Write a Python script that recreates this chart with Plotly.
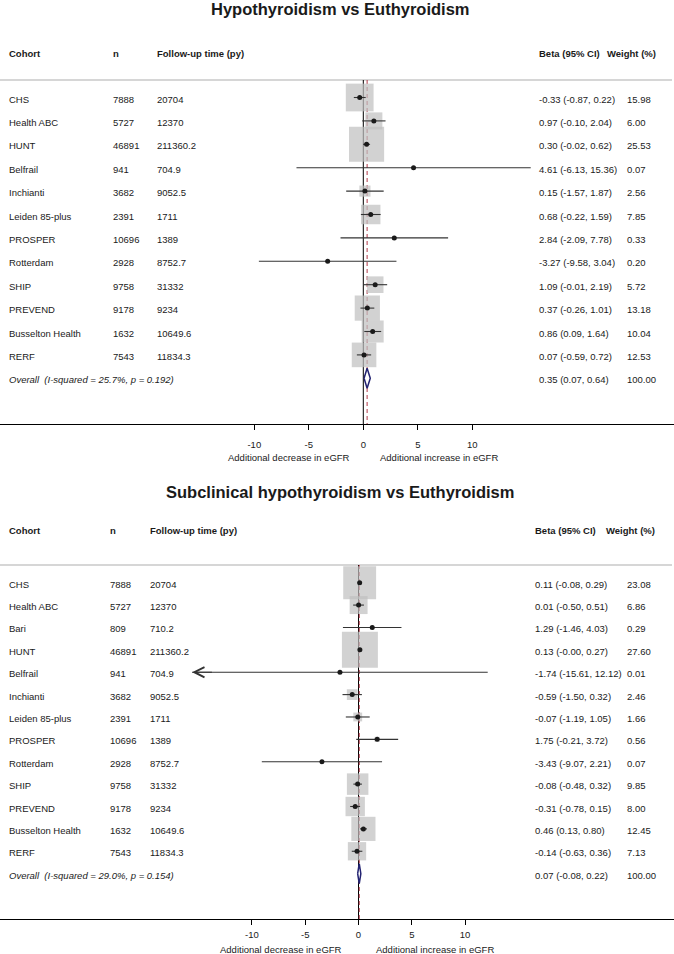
import math
import plotly.graph_objects as go

W, H = 674, 954

# ---------------- data: panel 1 ----------------
top_title = "Hypothyroidism vs Euthyroidism"
top_cohorts = ["CHS", "Health ABC", "HUNT", "Belfrail", "Inchianti", "Leiden 85-plus",
               "PROSPER", "Rotterdam", "SHIP", "PREVEND", "Busselton Health", "RERF"]
top_n = ["7888", "5727", "46891", "941", "3682", "2391", "10696", "2928", "9758", "9178", "1632", "7543"]
top_fu = ["20704", "12370", "211360.2", "704.9", "9052.5", "1711", "1389", "8752.7",
          "31332", "9234", "10649.6", "11834.3"]
top_beta = [-0.33, 0.97, 0.30, 4.61, 0.15, 0.68, 2.84, -3.27, 1.09, 0.37, 0.86, 0.07]
top_lo = [-0.87, -0.10, -0.02, -6.13, -1.57, -0.22, -2.09, -9.58, -0.01, -0.26, 0.09, -0.59]
top_hi = [0.22, 2.04, 0.62, 15.36, 1.87, 1.59, 7.78, 3.04, 2.19, 1.01, 1.64, 0.72]
top_w = [15.98, 6.00, 25.53, 0.07, 2.56, 7.85, 0.33, 0.20, 5.72, 13.18, 10.04, 12.53]
top_overall = [0.35, 0.07, 0.64]
top_overall_w = 100.00
top_overall_label = "Overall  (I-squared = 25.7%, p = 0.192)"

# ---------------- data: panel 2 ----------------
bot_title = "Subclinical hypothyroidism vs Euthyroidism"
bot_cohorts = ["CHS", "Health ABC", "Bari", "HUNT", "Belfrail", "Inchianti", "Leiden 85-plus",
               "PROSPER", "Rotterdam", "SHIP", "PREVEND", "Busselton Health", "RERF"]
bot_n = ["7888", "5727", "809", "46891", "941", "3682", "2391", "10696", "2928", "9758", "9178", "1632", "7543"]
bot_fu = ["20704", "12370", "710.2", "211360.2", "704.9", "9052.5", "1711", "1389", "8752.7",
          "31332", "9234", "10649.6", "11834.3"]
bot_beta = [0.11, 0.01, 1.29, 0.13, -1.74, -0.59, -0.07, 1.75, -3.43, -0.08, -0.31, 0.46, -0.14]
bot_lo = [-0.08, -0.50, -1.46, -0.00, -15.61, -1.50, -1.19, -0.21, -9.07, -0.48, -0.78, 0.13, -0.63]
bot_hi = [0.29, 0.51, 4.03, 0.27, 12.12, 0.32, 1.05, 3.72, 2.21, 0.32, 0.15, 0.80, 0.36]
bot_w = [23.08, 6.86, 0.29, 27.60, 0.01, 2.46, 1.66, 0.56, 0.07, 9.85, 8.00, 12.45, 7.13]
bot_overall = [0.07, -0.08, 0.22]
bot_overall_w = 100.00
bot_overall_label = "Overall  (I-squared = 29.0%, p = 0.154)"
bot_arrow_rows = ["Belfrail"]   # CI drawn with an arrow on the left

headers = ["Cohort", "n", "Follow-up time (py)", "Beta (95% CI)", "Weight (%)"]
tick_vals = [-10, -5, 0, 5, 10]
axis_left_label = "Additional decrease in eGFR"
axis_right_label = "Additional increase in eGFR"

FONT = "Liberation Sans, Arial, sans-serif"
FS = 9.5
TXT = "#1a1a1a"

panels = [
    dict(title=top_title, cohorts=top_cohorts, n=top_n, fu=top_fu, beta=top_beta, lo=top_lo,
         hi=top_hi, w=top_w, overall=top_overall, overall_w=top_overall_w,
         overall_label=top_overall_label, arrows=[],
         xa="x", ya="y", ytop=0, yax=424, r0=97.5, dr=23.4, zero=363.3, ppu=10.9,
         title_y=9, head_y=53, sep_y=80, col_n=111, col_fu=155, col_beta=537, col_wt=625,
         head_beta=537, head_wt=605, lab_y=457, lab_l=289, lab_r=439, k=6.95, standoff=7),
    dict(title=bot_title, cohorts=bot_cohorts, n=bot_n, fu=bot_fu, beta=bot_beta, lo=bot_lo,
         hi=bot_hi, w=bot_w, overall=bot_overall, overall_w=bot_overall_w,
         overall_label=bot_overall_label, arrows=bot_arrow_rows,
         xa="x2", ya="y2", ytop=470, yax=919, r0=582.7, dr=22.38, zero=358.5, ppu=10.66,
         title_y=492, head_y=530, sep_y=565, col_n=108, col_fu=148, col_beta=533, col_wt=625,
         head_beta=533, head_wt=604, lab_y=949.5, lab_l=281, lab_r=435, k=6.85, standoff=2),
]

fig = go.Figure()
annotations = []
shapes = []
layout_axes = {}


def fx(px):
    return px / W


def fy(px):
    return 1 - px / H


for p in panels:
    xa, ya = p["xa"], p["ya"]
    xkey = "xaxis" if xa == "x" else "xaxis" + xa[1:]
    ykey = "yaxis" if ya == "y" else "yaxis" + ya[1:]
    rowpos = lambda px, p=p: (px - p["r0"]) / p["dr"]
    tshift = 1.5 / p["dr"]          # text sits slightly below box centre
    nrow = len(p["cohorts"])
    rows = list(range(nrow))
    orow = nrow
    zero_px = p["zero"]

    layout_axes[xkey] = dict(
        domain=[0, 1], anchor=ya,
        range=[-zero_px / p["ppu"], (W - zero_px) / p["ppu"]],
        tickvals=tick_vals, ticktext=[str(v) for v in tick_vals],
        ticks="outside", ticklen=5, tickcolor="black", tickwidth=1,
        ticklabelstandoff=p["standoff"],
        showline=True, linecolor="black", linewidth=1,
        showgrid=False, zeroline=False, fixedrange=True,
        tickfont=dict(family=FONT, size=FS, color=TXT),
    )
    layout_axes[ykey] = dict(
        domain=[fy(p["yax"]), fy(p["ytop"])], anchor=xa,
        range=[rowpos(p["yax"]), rowpos(p["ytop"])],
        visible=False, fixedrange=True,
    )

    # reference lines (null effect = solid, pooled estimate = dashed)
    shapes.append(dict(type="line", xref=xa, yref=ya, x0=0, x1=0,
                       y0=rowpos(p["sep_y"]), y1=rowpos(p["yax"]),
                       line=dict(color="black", width=1), layer="below"))
    shapes.append(dict(type="line", xref=xa, yref=ya, x0=p["overall"][0], x1=p["overall"][0],
                       y0=rowpos(p["sep_y"]), y1=rowpos(p["yax"]),
                       line=dict(color="#b23a48", width=1, dash="4px,3px"), layer="below"))
    # header separator
    shapes.append(dict(type="line", xref="paper", yref=ya, x0=0, x1=672 / W,
                       y0=rowpos(p["sep_y"]), y1=rowpos(p["sep_y"]),
                       line=dict(color="#d6d6d6", width=2), layer="below"))

    # weight boxes
    fig.add_trace(go.Scatter(
        x=p["beta"], y=rows, mode="markers", xaxis=xa, yaxis=ya, hoverinfo="skip",
        marker=dict(symbol="square", size=[p["k"] * math.sqrt(w) for w in p["w"]],
                    color="#bfbfbf", line=dict(width=0)),
        showlegend=False, cliponaxis=False))

    # CI lines
    cx, cy = [], []
    for i, (lo, hi) in enumerate(zip(p["lo"], p["hi"])):
        cx += [lo, hi, None]
        cy += [i, i, None]
    fig.add_trace(go.Scatter(x=cx, y=cy, mode="lines", xaxis=xa, yaxis=ya, hoverinfo="skip",
                             line=dict(color="#333333", width=1.1), showlegend=False))

    # point estimates
    fig.add_trace(go.Scatter(
        x=p["beta"], y=rows, mode="markers", xaxis=xa, yaxis=ya, hoverinfo="skip",
        marker=dict(symbol="circle", size=5, color="#1a1a1a", line=dict(width=0)),
        showlegend=False))

    # arrow on the CI end
    for name in p["arrows"]:
        i = p["cohorts"].index(name)
        annotations.append(dict(
            x=p["lo"][i], y=i, ax=p["lo"][i] + 2, ay=i, xref=xa, yref=ya, axref=xa, ayref=ya,
            text="", showarrow=True, arrowhead=5, arrowsize=2, arrowwidth=1,
            arrowcolor="#333333", standoff=0))

    # overall diamond
    est, olo, ohi = p["overall"]
    hh = 10 / p["dr"]
    fig.add_trace(go.Scatter(
        x=[olo, est, ohi, est, olo], y=[orow, orow - hh, orow, orow + hh, orow],
        mode="lines", fill="toself", fillcolor="white", xaxis=xa, yaxis=ya,
        line=dict(color="#232372", width=1.5), hoverinfo="skip", showlegend=False))

    # title
    annotations.append(dict(text="<b>%s</b>" % p["title"], x=fx(340), y=fy(p["title_y"]),
                            xref="paper", yref="paper", showarrow=False,
                            xanchor="center", yanchor="middle",
                            font=dict(family=FONT, size=16.5, color=TXT)))
    # headers
    hx = [7, p["col_n"], p["col_fu"], p["head_beta"], p["head_wt"]]
    for h, x in zip(headers, hx):
        annotations.append(dict(text="<b>%s</b>" % h, x=fx(x), y=fy(p["head_y"]),
                                xref="paper", yref="paper", showarrow=False,
                                xanchor="left", yanchor="middle",
                                font=dict(family=FONT, size=FS, color=TXT)))
    # study rows
    for i in rows:
        cols = [
            (7, p["cohorts"][i]),
            (p["col_n"], p["n"][i]),
            (p["col_fu"], p["fu"][i]),
            (p["col_beta"], "%.2f (%.2f, %.2f)" % (p["beta"][i], p["lo"][i], p["hi"][i])),
            (p["col_wt"], "%.2f" % p["w"][i]),
        ]
        for x, t in cols:
            annotations.append(dict(text=t, x=fx(x), y=i + tshift, xref="paper", yref=ya,
                                    showarrow=False, xanchor="left", yanchor="middle",
                                    font=dict(family=FONT, size=FS, color=TXT)))
    # overall row
    for x, t in [(7, "<i>%s</i>" % p["overall_label"]),
                 (p["col_beta"], "%.2f (%.2f, %.2f)" % (est, olo, ohi)),
                 (p["col_wt"], "%.2f" % p["overall_w"])]:
        annotations.append(dict(text=t, x=fx(x), y=orow + tshift, xref="paper", yref=ya,
                                showarrow=False, xanchor="left", yanchor="middle",
                                font=dict(family=FONT, size=FS, color=TXT)))
    # axis side labels
    for x, t in [(p["lab_l"], axis_left_label), (p["lab_r"], axis_right_label)]:
        annotations.append(dict(text=t, x=fx(x), y=fy(p["lab_y"]), xref="paper",
                                yref="paper", showarrow=False, xanchor="center",
                                yanchor="middle",
                                font=dict(family=FONT, size=FS, color=TXT)))

fig.update_layout(
    width=W, height=H, margin=dict(l=0, r=0, t=0, b=0),
    paper_bgcolor="white", plot_bgcolor="rgba(0,0,0,0)",
    showlegend=False, annotations=annotations, shapes=shapes,
    font=dict(family=FONT, size=FS, color=TXT),
    **layout_axes,
)

# remove the page's default 8px body margin so the figure fills the window exactly
fig.write_html("out.html", config={"displayModeBar": False},
               post_script="document.body.style.margin='0px';")
